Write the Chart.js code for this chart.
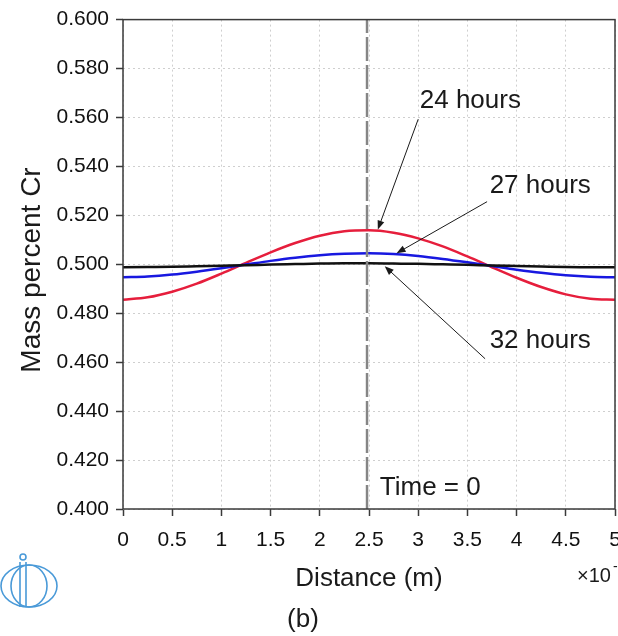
<!DOCTYPE html>
<html lang="en">
<head>
  <meta charset="UTF-8" />
  <title>Mass percent Cr vs distance</title>
  <script src="https://cdn.jsdelivr.net/npm/chart.js"></script>
  <style>
    html, body { margin: 0; padding: 0; background: #fff; }
    #wrap { width: 618px; height: 636px; }
  </style>
</head>
<body>
  <div id="wrap"><canvas id="crChart" width="618" height="636"></canvas></div>

  <script>
    // values (distance in units of 1e-3 m)
    const distance = [0, 0.25, 0.5, 0.75, 1, 1.25, 1.5, 1.75, 2, 2.25, 2.5, 2.75, 3, 3.25, 3.5, 3.75, 4, 4.25, 4.5, 4.75, 5];
    const hours24 = [0.4855, 0.4865, 0.4888, 0.4921, 0.4962, 0.5006, 0.5049, 0.5087, 0.5117, 0.5135, 0.5139, 0.5129, 0.5106, 0.5073, 0.5032, 0.4988, 0.4945, 0.4907, 0.4877, 0.4859, 0.4855];
    const hours27 = [0.4947, 0.4950, 0.4958, 0.4970, 0.4984, 0.4999, 0.5014, 0.5027, 0.5037, 0.5043, 0.5045, 0.5042, 0.5034, 0.5022, 0.5008, 0.4993, 0.4978, 0.4965, 0.4955, 0.4949, 0.4947];
    const hours32 = [0.4988, 0.4989, 0.4990, 0.4992, 0.4994, 0.4996, 0.4999, 0.5001, 0.5003, 0.5004, 0.5004, 0.5003, 0.5002, 0.5000, 0.4998, 0.4995, 0.4993, 0.4991, 0.4989, 0.4988, 0.4988];
    const timeZeroX = [2.48, 2.48];
    const timeZeroY = [0.4, 0.6];

    const xTicks = [0, 0.5, 1, 1.5, 2, 2.5, 3, 3.5, 4, 4.5, 5];
    const yTicks = [0.4, 0.42, 0.44, 0.46, 0.48, 0.5, 0.52, 0.54, 0.56, 0.58, 0.6];

    // callouts: text anchor and arrow, in data units
    const notes = [
      { text: '24 hours', x: 3.53, y: 0.5667, from: [3.00, 0.5593], to: [2.59, 0.5142] },
      { text: '27 hours', x: 4.24, y: 0.5321, from: [3.70, 0.5256], to: [2.78, 0.5045] },
      { text: '32 hours', x: 4.24, y: 0.4687, from: [3.68, 0.4614], to: [2.66, 0.4992] }
    ];

    const FONT = '"Liberation Sans", Arial, sans-serif';

    function pts(ys) {
      return distance.map((x, i) => ({ x: x, y: ys[i] }));
    }

    function arrow(ctx, x1, y1, x2, y2) {
      const ang = Math.atan2(y2 - y1, x2 - x1);
      const len = 9, wid = 3.5;
      ctx.beginPath();
      ctx.moveTo(x1, y1);
      ctx.lineTo(x2 - Math.cos(ang) * len * 0.8, y2 - Math.sin(ang) * len * 0.8);
      ctx.stroke();
      ctx.beginPath();
      ctx.moveTo(x2, y2);
      ctx.lineTo(x2 - Math.cos(ang) * len - Math.sin(ang) * wid, y2 - Math.sin(ang) * len + Math.cos(ang) * wid);
      ctx.lineTo(x2 - Math.cos(ang) * len + Math.sin(ang) * wid, y2 - Math.sin(ang) * len - Math.cos(ang) * wid);
      ctx.closePath();
      ctx.fill();
    }

    const extras = {
      id: 'extras',
      afterDatasetsDraw(chart) {
        const { ctx, chartArea: a, scales: { x, y } } = chart;
        ctx.save();

        // plot frame
        ctx.strokeStyle = '#3a3a3a';
        ctx.lineWidth = 1.5;
        ctx.strokeRect(a.left, a.top, a.right - a.left, a.bottom - a.top);

        // callouts
        ctx.fillStyle = '#1a1a1a';
        ctx.strokeStyle = '#1a1a1a';
        ctx.lineWidth = 1;
        ctx.font = '26px ' + FONT;
        ctx.textAlign = 'center';
        ctx.textBaseline = 'middle';
        notes.forEach(n => {
          ctx.fillText(n.text, x.getPixelForValue(n.x), y.getPixelForValue(n.y));
          arrow(ctx,
            x.getPixelForValue(n.from[0]), y.getPixelForValue(n.from[1]),
            x.getPixelForValue(n.to[0]), y.getPixelForValue(n.to[1]));
        });

        ctx.textAlign = 'left';
        ctx.fillText('Time = 0', x.getPixelForValue(2.61), y.getPixelForValue(0.4085));

        // y axis title, a little below the plot centre as in the original
        ctx.save();
        ctx.translate(32, 270);
        ctx.rotate(-Math.PI / 2);
        ctx.textAlign = 'center';
        ctx.font = '28px ' + FONT;
        ctx.fillText('Mass percent Cr', 0, 0);
        ctx.restore();

        // exponent label, cut at the right edge
        ctx.textAlign = 'left';
        ctx.font = '20px ' + FONT;
        ctx.fillText('\u00d710', 577, 576);
        ctx.font = '14px ' + FONT;
        ctx.fillText('-3', 613, 567);

        // panel label
        ctx.font = '26px ' + FONT;
        ctx.textAlign = 'center';
        ctx.fillText('(b)', 303, 620);

        // small logo, bottom left
        ctx.strokeStyle = '#4a9ad8';
        ctx.lineWidth = 1.6;
        ctx.beginPath();
        ctx.ellipse(29, 586, 28, 21, 0, 0, Math.PI * 2);
        ctx.stroke();
        ctx.beginPath();
        ctx.ellipse(29, 586, 18, 21, 0, 0, Math.PI * 2);
        ctx.stroke();
        ctx.beginPath();
        ctx.moveTo(20, 562); ctx.lineTo(20, 607);
        ctx.moveTo(26, 562); ctx.lineTo(26, 607);
        ctx.stroke();
        ctx.beginPath();
        ctx.arc(23, 557, 3, 0, Math.PI * 2);
        ctx.stroke();

        ctx.restore();
      }
    };

    new Chart(document.getElementById('crChart'), {
      type: 'line',
      data: {
        datasets: [
          {
            label: 'Time = 0',
            data: timeZeroX.map((v, i) => ({ x: v, y: timeZeroY[i] })),
            borderColor: '#858585',
            borderWidth: 2.5,
            borderDash: [24, 4],
            pointRadius: 0
          },
          {
            label: '32 hours',
            data: pts(hours32),
            borderColor: '#111111',
            borderWidth: 2.5,
            pointRadius: 0,
            cubicInterpolationMode: 'monotone'
          },
          {
            label: '27 hours',
            data: pts(hours27),
            borderColor: '#1818e0',
            borderWidth: 2.5,
            pointRadius: 0,
            cubicInterpolationMode: 'monotone'
          },
          {
            label: '24 hours',
            data: pts(hours24),
            borderColor: '#e61e3c',
            borderWidth: 2.5,
            pointRadius: 0,
            cubicInterpolationMode: 'monotone'
          }
        ]
      },
      options: {
        responsive: false,
        animation: false,
        layout: { padding: { left: 0, top: 17, right: 3, bottom: 42 } },
        plugins: {
          legend: { display: false },
          tooltip: { enabled: false }
        },
        scales: {
          x: {
            type: 'linear',
            min: 0,
            max: 5,
            afterBuildTicks: s => { s.ticks = xTicks.map(v => ({ value: v })); },
            afterFit: s => { s.height = 85; s.paddingLeft = 0; s.paddingRight = 0; },
            ticks: {
              color: '#111',
              font: { family: FONT, size: 21 },
              padding: 12,
              maxRotation: 0,
              autoSkip: false,
              callback: v => String(v)
            },
            grid: {
              color: '#cfcfcf',
              lineWidth: 1,
              tickLength: 7,
              tickColor: '#3a3a3a',
              tickWidth: 1.5
            },
            border: { display: false, dash: [2, 3] },
            title: {
              display: true,
              text: 'Distance (m)',
              color: '#1a1a1a',
              font: { family: FONT, size: 26 },
              padding: { top: 0, bottom: 0 }
            }
          },
          y: {
            min: 0.4,
            max: 0.6,
            afterBuildTicks: s => { s.ticks = yTicks.map(v => ({ value: v })); },
            afterFit: s => { s.width = 123; },
            ticks: {
              color: '#111',
              font: { family: FONT, size: 21 },
              padding: 7,
              autoSkip: false,
              callback: v => Number(v).toFixed(3)
            },
            grid: {
              color: '#cfcfcf',
              lineWidth: 1,
              tickLength: 7,
              tickColor: '#3a3a3a',
              tickWidth: 1.5
            },
            border: { display: false, dash: [2, 3] },
            title: { display: false }
          }
        }
      },
      plugins: [extras]
    });
  </script>
</body>
</html>
